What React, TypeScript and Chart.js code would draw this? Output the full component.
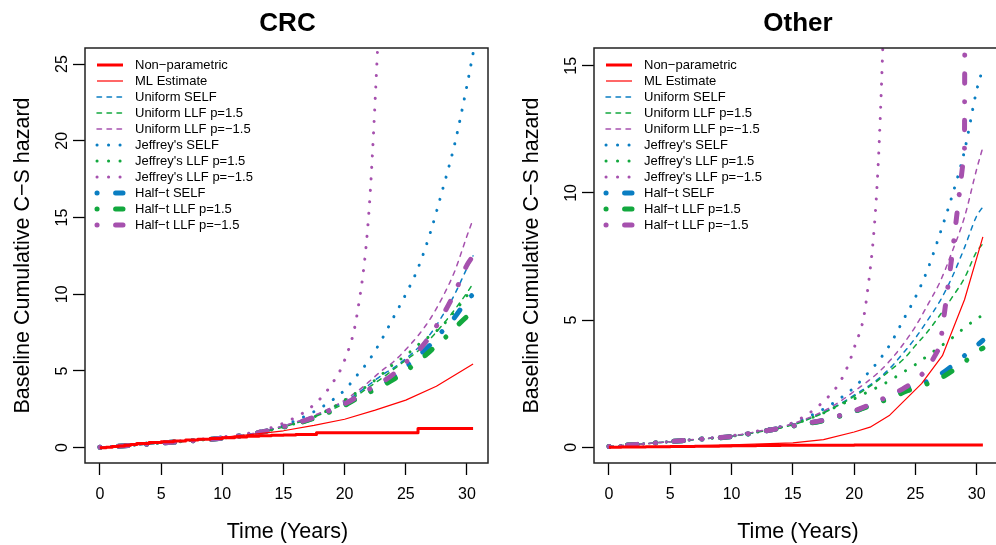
import React, { useEffect, useRef } from "react";
import { Chart, registerables } from "chart.js";

Chart.register(...registerables);

const FONT = '"Liberation Sans", Arial, Helvetica, sans-serif';

// ---------- labels & ticks ----------
const seriesLabels = [
  "Non−parametric",
  "ML Estimate",
  "Uniform SELF",
  "Uniform LLF p=1.5",
  "Uniform LLF p=−1.5",
  "Jeffrey's SELF",
  "Jeffrey's LLF p=1.5",
  "Jeffrey's LLF p=−1.5",
  "Half−t SELF",
  "Half−t LLF p=1.5",
  "Half−t LLF p=−1.5",
];
const panelTitles = ["CRC", "Other"];
const xAxisTitle = "Time (Years)";
const yAxisTitle = "Baseline Cumulative C−S hazard";
const xTicks = [0, 5, 10, 15, 20, 25, 30];
const crcYTicks = [0, 5, 10, 15, 20, 25];
const otherYTicks = [0, 5, 10, 15];

// ---------- shared time grid for posterior curves ----------
const bayesTime = [0, 2.5, 5, 7.5, 10, 12.5, 15, 17.5, 19, 20, 21, 22, 23, 24, 25, 26, 27, 28, 29, 30, 30.5];

// ---------- CRC ----------
const crcNpTime = [0, 0.5, 1, 1.5, 2, 2.5, 3, 4, 5, 6, 7, 8, 9, 10, 11, 12, 13, 14, 15, 16, 17.7, 26, 30.5];
const crcNpValues = [0, 0.03, 0.07, 0.1, 0.15, 0.2, 0.27, 0.33, 0.38, 0.43, 0.5, 0.55, 0.6, 0.65, 0.7, 0.74, 0.78, 0.81, 0.83, 0.85, 0.97, 1.25, 1.25];
const crcMlTime = [0, 2.5, 5, 7.5, 10, 12.5, 15, 17.5, 20, 22.5, 25, 27.5, 30.5];
const crcMlValues = [0, 0.15, 0.33, 0.5, 0.68, 0.87, 1.1, 1.45, 1.85, 2.45, 3.1, 4.0, 5.46];
const crcUniformSelf = [0.02, 0.15, 0.3, 0.45, 0.62, 0.9, 1.4, 2.05, 2.6, 3.0, 3.5, 4.1, 4.7, 5.2, 5.8, 6.5, 7.4, 8.6, 10.0, 11.7, 12.5];
const crcUniformLlfPos = [0.02, 0.15, 0.3, 0.45, 0.62, 0.9, 1.35, 2.0, 2.5, 2.9, 3.4, 3.95, 4.5, 5.1, 5.7, 6.3, 7.1, 8.0, 9.0, 10.1, 10.7];
const crcUniformLlfNeg = [0.02, 0.15, 0.31, 0.46, 0.64, 0.92, 1.42, 2.1, 2.65, 3.1, 3.65, 4.3, 5.0, 5.6, 6.4, 7.3, 8.4, 9.8, 11.5, 13.8, 14.9];
const crcJeffSelf = [0.02, 0.16, 0.32, 0.47, 0.65, 0.95, 1.45, 2.35, 3.1, 3.75, 4.7, 5.7, 7.0, 8.5, 10.0, 11.7, 14.0, 16.8, 19.8, 23.6, 25.7];
const crcJeffLlfPos = [0.02, 0.15, 0.3, 0.45, 0.62, 0.9, 1.35, 2.0, 2.6, 3.1, 3.6, 4.1, 4.75, 5.45, 6.0, 6.7, 7.3, 7.95, 8.9, 9.9, 10.5];
const crcJeffLlfNeg = [0.02, 0.16, 0.33, 0.5, 0.7, 1.0, 1.6, 2.8, 4.2, 5.7, 8.6, 15.5, 31, null, null, null, null, null, null, null, null];
const crcHalfSelf = [0.02, 0.15, 0.3, 0.45, 0.62, 0.9, 1.35, 1.95, 2.45, 2.8, 3.25, 3.7, 4.1, 4.6, 5.25, 5.95, 6.7, 7.6, 8.5, 9.6, 10.0];
const crcHalfLlfPos = [0.02, 0.15, 0.3, 0.45, 0.62, 0.9, 1.33, 1.92, 2.4, 2.75, 3.2, 3.6, 4.0, 4.45, 5.0, 5.6, 6.3, 7.0, 7.8, 8.55, 8.9];
const crcHalfLlfNeg = [0.02, 0.15, 0.3, 0.45, 0.62, 0.9, 1.37, 1.98, 2.5, 2.85, 3.3, 3.8, 4.25, 4.8, 5.55, 6.3, 7.3, 8.6, 10.1, 11.9, 12.5];

// ---------- Other ----------
const otherNpTime = [0, 1, 2, 3, 4, 5, 6, 7, 8, 9, 10, 11, 12, 13, 14, 16, 20, 30.5];
const otherNpValues = [0, 0.005, 0.01, 0.015, 0.02, 0.025, 0.03, 0.035, 0.04, 0.05, 0.055, 0.06, 0.065, 0.07, 0.075, 0.08, 0.085, 0.085];
const otherMlTime = [0, 2.5, 5, 7.5, 10, 12.5, 15, 17.5, 20, 21.3, 22.9, 25.5, 27.2, 29, 30.5];
const otherMlValues = [0, 0.015, 0.035, 0.06, 0.09, 0.13, 0.17, 0.3, 0.6, 0.79, 1.26, 2.5, 3.6, 5.8, 8.27];
const otherUniformSelf = [0.03, 0.12, 0.22, 0.32, 0.43, 0.64, 0.9, 1.38, 1.75, 2.05, 2.35, 2.7, 3.15, 3.7, 4.3, 5.0, 5.75, 6.7, 7.85, 9.1, 9.45];
const otherUniformLlfPos = [0.03, 0.12, 0.22, 0.32, 0.43, 0.63, 0.88, 1.35, 1.72, 2.0, 2.3, 2.65, 3.05, 3.45, 4.0, 4.55, 5.2, 5.9, 6.65, 7.7, 8.0];
const otherUniformLlfNeg = [0.03, 0.12, 0.22, 0.33, 0.44, 0.66, 0.93, 1.42, 1.85, 2.2, 2.55, 2.95, 3.45, 4.05, 4.75, 5.6, 6.5, 7.7, 9.05, 10.95, 11.8];
const otherJeffSelf = [0.03, 0.12, 0.22, 0.33, 0.44, 0.66, 0.95, 1.5, 1.97, 2.35, 2.85, 3.4, 4.1, 5.0, 5.9, 7.0, 8.4, 9.9, 11.65, 14.05, 14.9];
const otherJeffLlfPos = [0.03, 0.12, 0.22, 0.32, 0.43, 0.63, 0.9, 1.35, 1.7, 1.9, 2.15, 2.38, 2.65, 2.95, 3.25, 3.6, 3.95, 4.3, 4.7, 5.05, 5.2];
const otherJeffLlfNeg = [0.03, 0.12, 0.22, 0.33, 0.45, 0.68, 0.97, 1.8, 2.7, 3.9, 5.8, 11.5, 26, null, null, null, null, null, null, null, null];
const otherHalfSelf = [0.03, 0.12, 0.22, 0.32, 0.42, 0.62, 0.84, 1.06, 1.26, 1.4, 1.6, 1.8, 2.0, 2.25, 2.45, 2.6, 2.85, 3.2, 3.6, 4.0, 4.2];
const otherHalfLlfPos = [0.03, 0.12, 0.22, 0.32, 0.42, 0.62, 0.83, 1.05, 1.25, 1.4, 1.58, 1.75, 1.95, 2.15, 2.35, 2.5, 2.7, 3.0, 3.35, 3.75, 3.9];
const otherHalfLlfNeg = [0.03, 0.12, 0.22, 0.32, 0.42, 0.62, 0.84, 1.06, 1.27, 1.42, 1.62, 1.83, 2.05, 2.3, 2.6, 3.1, 3.95, 7.6, 11.7, 200, null];

// ---------- styles ----------
const RED = "#FF0000";
const BLUE = "#0A7EC2";
const GREEN = "#12A83E";
const PURPLE = "#A651AE";
const DASH = [4.5, 5.5];
const DOT = [0.1, 11.4];
const DASHDOT = [0.1, 18.5, 9.5, 18.5];
const seriesStyles = [
  { color: RED, width: 3, dash: [] as number[] },
  { color: RED, width: 1.2, dash: [] as number[] },
  { color: BLUE, width: 1.5, dash: DASH },
  { color: GREEN, width: 1.5, dash: DASH },
  { color: PURPLE, width: 1.5, dash: DASH },
  { color: BLUE, width: 3, dash: DOT },
  { color: GREEN, width: 3, dash: DOT },
  { color: PURPLE, width: 3, dash: DOT },
  { color: BLUE, width: 5, dash: DASHDOT },
  { color: GREEN, width: 5, dash: DASHDOT },
  { color: PURPLE, width: 5, dash: DASHDOT },
];

type Series = { t: number[]; v: (number | null)[]; stepped?: boolean; linear?: boolean };

const panels = [
  {
    title: panelTitles[0],
    yTicks: crcYTicks,
    yMin: -1.0,
    yMax: 26.05,
    xMin: -1.22,
    xMax: 31.72,
    chartLeft: 85,
    padRight: 10,
    boxRightExtra: 0,
    series: [
      { t: crcNpTime, v: crcNpValues, stepped: true },
      { t: crcMlTime, v: crcMlValues, linear: true },
      { t: bayesTime, v: crcUniformSelf },
      { t: bayesTime, v: crcUniformLlfPos },
      { t: bayesTime, v: crcUniformLlfNeg },
      { t: bayesTime, v: crcJeffSelf },
      { t: bayesTime, v: crcJeffLlfPos },
      { t: bayesTime, v: crcJeffLlfNeg },
      { t: bayesTime, v: crcHalfSelf },
      { t: bayesTime, v: crcHalfLlfPos },
      { t: bayesTime, v: crcHalfLlfNeg },
    ] as Series[],
  },
  {
    title: panelTitles[1],
    yTicks: otherYTicks,
    yMin: -0.62,
    yMax: 15.7,
    xMin: -1.22,
    xMax: 31.57,
    chartLeft: 96,
    padRight: 0,
    boxRightExtra: 4,
    series: [
      { t: otherNpTime, v: otherNpValues, stepped: true },
      { t: otherMlTime, v: otherMlValues, linear: true },
      { t: bayesTime, v: otherUniformSelf },
      { t: bayesTime, v: otherUniformLlfPos },
      { t: bayesTime, v: otherUniformLlfNeg },
      { t: bayesTime, v: otherJeffSelf },
      { t: bayesTime, v: otherJeffLlfPos },
      { t: bayesTime, v: otherJeffLlfNeg },
      { t: bayesTime, v: otherHalfSelf },
      { t: bayesTime, v: otherHalfLlfPos },
      { t: bayesTime, v: otherHalfLlfNeg, linear: true },
    ] as Series[],
  },
];

type Panel = (typeof panels)[number];

function panelPlugin(p: Panel) {
  return {
    id: "panelDecor" + p.title,
    afterDraw(chart: any) {
      const { ctx, chartArea: a, scales } = chart;
      ctx.save();
      // box
      ctx.setLineDash([]);
      ctx.strokeStyle = "#222";
      ctx.lineWidth = 1.5;
      ctx.strokeRect(a.left, a.top, a.right - a.left + p.boxRightExtra, a.bottom - a.top);

      ctx.fillStyle = "#000";
      // y tick labels (parallel to axis, as in R)
      ctx.font = `16px ${FONT}`;
      const ys = scales.y;
      ys.ticks.forEach((tk: any) => {
        const py = ys.getPixelForValue(tk.value);
        ctx.save();
        ctx.translate(a.left - 18, py);
        ctx.rotate(-Math.PI / 2);
        ctx.textAlign = "center";
        ctx.textBaseline = "alphabetic";
        ctx.fillText(String(tk.value), 0, 0);
        ctx.restore();
      });
      // y title
      ctx.font = `21.5px ${FONT}`;
      ctx.save();
      ctx.translate(a.left - 56, (a.top + a.bottom) / 2);
      ctx.rotate(-Math.PI / 2);
      ctx.textAlign = "center";
      ctx.textBaseline = "alphabetic";
      ctx.fillText(yAxisTitle, 0, 0);
      ctx.restore();
      // x title
      ctx.textAlign = "center";
      ctx.textBaseline = "alphabetic";
      ctx.fillText(xAxisTitle, (a.left + a.right + p.boxRightExtra + 2) / 2, a.bottom + 75);
      // main title
      ctx.font = `bold 26px ${FONT}`;
      ctx.fillText(p.title, (a.left + a.right + p.boxRightExtra + 2) / 2, 31);

      // legend
      const x0 = a.left + 12;
      const x1 = a.left + 38;
      const xt = a.left + 50;
      chart.data.datasets.forEach((ds: any, i: number) => {
        const y = 65 + 16 * i;
        ctx.save();
        ctx.strokeStyle = ds.borderColor;
        ctx.lineWidth = ds.borderWidth;
        ctx.setLineDash(ds.borderDash || []);
        ctx.lineCap = ds.borderCapStyle || "butt";
        ctx.beginPath();
        ctx.moveTo(x0, y);
        ctx.lineTo(x1, y);
        ctx.stroke();
        ctx.restore();
        ctx.font = `13px ${FONT}`;
        ctx.textAlign = "left";
        ctx.textBaseline = "middle";
        ctx.fillStyle = "#000";
        ctx.fillText(ds.label, xt, y + 0.5);
      });
      ctx.restore();
    },
  };
}

function buildChart(canvas: HTMLCanvasElement, p: Panel) {
  const datasets = p.series.map((s, i) => {
    const st = seriesStyles[i];
    return {
      label: seriesLabels[i],
      data: s.t.map((x, j) => ({ x, y: s.v[j] })),
      borderColor: st.color,
      backgroundColor: st.color,
      borderWidth: st.width,
      borderDash: st.dash,
      borderCapStyle: st.dash.length ? "round" : "butt",
      borderJoinStyle: "round",
      pointRadius: 0,
      pointHoverRadius: 0,
      fill: false,
      stepped: s.stepped ? "before" : false,
      cubicInterpolationMode: s.stepped || s.linear ? "default" : "monotone",
      tension: 0,
      spanGaps: false,
      order: i < 2 ? i : 20 - i,
    };
  });
  const tickGrid = {
    display: true,
    drawOnChartArea: false,
    drawTicks: true,
    tickLength: 12,
    tickWidth: 1.3,
    tickColor: "#000",
    color: "#000",
  };
  return new Chart(canvas, {
    type: "line",
    data: { datasets } as any,
    options: {
      animation: false,
      responsive: false,
      maintainAspectRatio: false,
      devicePixelRatio: 1,
      layout: { padding: { left: 0, right: p.padRight, top: 48, bottom: 0 } },
      plugins: {
        legend: { display: false },
        tooltip: { enabled: false },
        title: { display: false },
      },
      events: [],
      scales: {
        x: {
          type: "linear",
          min: p.xMin,
          max: p.xMax,
          afterBuildTicks: (s: any) => {
            s.ticks = xTicks.map((v) => ({ value: v }));
          },
          afterFit: (s: any) => {
            s.height = 82;
          },
          grid: tickGrid,
          border: { display: false },
          ticks: {
            font: { family: FONT, size: 16 },
            color: "#000",
            padding: 10,
            maxRotation: 0,
            minRotation: 0,
            autoSkip: false,
          },
        },
        y: {
          type: "linear",
          min: p.yMin,
          max: p.yMax,
          afterBuildTicks: (s: any) => {
            s.ticks = p.yTicks.map((v) => ({ value: v }));
          },
          afterFit: (s: any) => {
            s.width = p.chartLeft;
          },
          grid: tickGrid,
          border: { display: false },
          ticks: { display: false },
        },
      },
    } as any,
    plugins: [panelPlugin(p)],
  });
}

function Panel({ p, left }: { p: Panel; left: number }) {
  const ref = useRef<HTMLCanvasElement | null>(null);
  useEffect(() => {
    if (!ref.current) return;
    const chart = buildChart(ref.current, p);
    return () => chart.destroy();
  }, [p]);
  return (
    <canvas
      ref={ref}
      width={498}
      height={545}
      style={{ position: "absolute", left, top: 0, width: 498, height: 545, display: "block" }}
    />
  );
}

export default function App() {
  return (
    <div
      style={{
        position: "fixed",
        left: 0,
        top: 0,
        width: 996,
        height: 545,
        background: "#ffffff",
        overflow: "hidden",
      }}
    >
      <Panel p={panels[0]} left={0} />
      <Panel p={panels[1]} left={498} />
    </div>
  );
}
